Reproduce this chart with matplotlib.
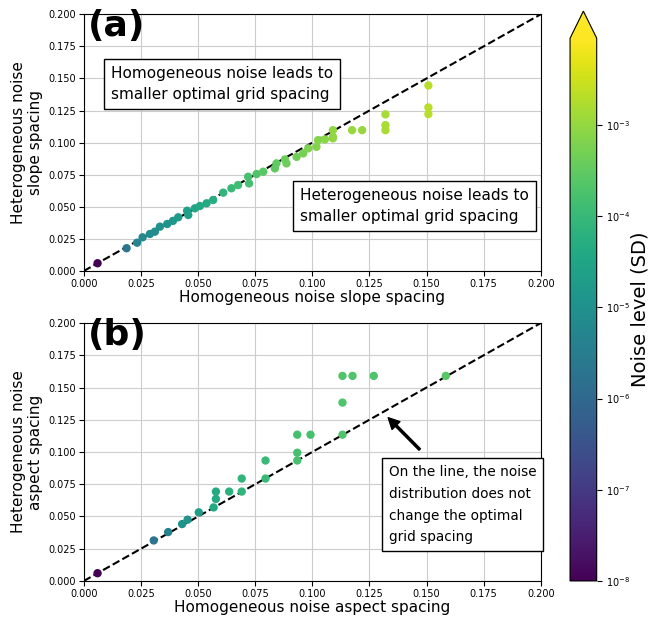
import numpy as np
import matplotlib
matplotlib.use('Agg')
import matplotlib.pyplot as plt
from matplotlib.colors import LogNorm

# (a) slope spacing: homogeneous vs heterogeneous, with noise level (SD)
slope_hom = np.array([0.006, 0.0187, 0.0233, 0.0257, 0.0289, 0.0311, 0.0333, 0.0365, 0.039, 0.0413,
                      0.0452, 0.0457, 0.0486, 0.0508, 0.0537, 0.0566, 0.061, 0.0646, 0.0675, 0.0719,
                      0.0723, 0.0756, 0.0785, 0.0836, 0.0843, 0.088, 0.0887, 0.0931, 0.096, 0.0982,
                      0.1018, 0.1025, 0.1055, 0.109, 0.109, 0.109, 0.1174, 0.1218, 0.132, 0.132,
                      0.132, 0.1508, 0.1508, 0.1508])
slope_het = np.array([0.006, 0.0177, 0.022, 0.0262, 0.0288, 0.0306, 0.0345, 0.0366, 0.039, 0.0418,
                      0.0469, 0.0436, 0.0488, 0.0506, 0.0527, 0.0553, 0.061, 0.0644, 0.0669, 0.0734,
                      0.0682, 0.0755, 0.0773, 0.0799, 0.0838, 0.0869, 0.0838, 0.0889, 0.0916, 0.0955,
                      0.0967, 0.1019, 0.1025, 0.1045, 0.1097, 0.1033, 0.1097, 0.1097, 0.122, 0.1136,
                      0.1097, 0.1445, 0.1274, 0.1222])
slope_noise = np.array([1e-8, 2e-6, 5e-6, 6e-6, 7e-6, 8e-6, 1e-5, 1.2e-5, 1.4e-5, 1.8e-5,
                        2.5e-5, 2.5e-5, 3.2e-5, 3.6e-5, 4e-5, 5e-5, 8e-5, 1e-4, 1.3e-4, 1.6e-4,
                        1.6e-4, 2e-4, 2.5e-4, 3.2e-4, 3.2e-4, 4e-4, 4e-4, 4.5e-4, 5e-4, 6.3e-4,
                        7e-4, 7e-4, 8e-4, 9e-4, 9e-4, 9e-4, 1.1e-3, 1.1e-3, 1.5e-3, 1.5e-3,
                        1.5e-3, 2e-3, 2e-3, 2e-3])

# (b) aspect spacing
aspect_hom = np.array([0.006, 0.0306, 0.0369, 0.043, 0.0454, 0.0503, 0.0568, 0.0578, 0.0578, 0.0636,
                       0.0691, 0.0691, 0.0795, 0.0795, 0.0934, 0.0934, 0.0934, 0.0992, 0.1132, 0.1132,
                       0.1132, 0.1176, 0.1269, 0.1584])
aspect_het = np.array([0.006, 0.0314, 0.0379, 0.0441, 0.0475, 0.0532, 0.057, 0.0636, 0.0693, 0.0693,
                       0.0693, 0.0794, 0.0794, 0.0934, 0.0934, 0.0994, 0.1134, 0.1134, 0.1134, 0.1383,
                       0.159, 0.159, 0.159, 0.159])
aspect_noise = np.array([1e-8, 2e-6, 4e-6, 1e-5, 1.3e-5, 2e-5, 4e-5, 4e-5, 4e-5, 6.3e-5,
                         8e-5, 8e-5, 1e-4, 1e-4, 1.6e-4, 1.6e-4, 1.6e-4, 1.6e-4, 2e-4, 2e-4,
                         2e-4, 2e-4, 2e-4, 2.5e-4])

ticks = [0, 0.025, 0.05, 0.075, 0.1, 0.125, 0.15, 0.175, 0.2]
norm = LogNorm(vmin=1e-8, vmax=10**-2.05)

fig = plt.figure(figsize=(6.5, 6.2), dpi=100)
ax1 = fig.add_axes([0.129, 0.563, 0.703, 0.414])
ax2 = fig.add_axes([0.129, 0.063, 0.703, 0.416])
cax = fig.add_axes([0.877, 0.063, 0.041, 0.919])


def setup(ax, hom, het, noise, xlabel, ylabel, tag):
    ax.grid(True, color='0.8', lw=0.8, zorder=0)
    ax.plot([0, 0.2], [0, 0.2], 'k--', lw=1.5, zorder=2)
    sc = ax.scatter(hom, het, c=noise, cmap='viridis', norm=norm, s=25, zorder=3)
    ax.set_xlim(0, 0.2)
    ax.set_ylim(0, 0.2)
    ax.set_xticks(ticks)
    ax.set_yticks(ticks)
    ax.tick_params(labelsize=7, pad=2)
    ax.set_xlabel(xlabel, fontsize=11, labelpad=1)
    ax.set_ylabel(ylabel, fontsize=11, labelpad=4)
    ax.text(0.008, 0.955, tag, transform=ax.transAxes, fontsize=26, fontweight='bold',
            va='center', ha='left', zorder=5)
    return sc


bbox = dict(boxstyle='square,pad=0.45', facecolor='white', edgecolor='black')

sc = setup(ax1, slope_hom, slope_het, slope_noise, 'Homogeneous noise slope spacing',
           'Heterogeneous noise\nslope spacing', '(a)')
ax1.text(0.0118, 0.1455, 'Homogeneous noise leads to\nsmaller optimal grid spacing',
         fontsize=11, va='center', ha='left', linespacing=1.5, bbox=bbox, zorder=4)
ax1.text(0.0945, 0.0506, 'Heterogeneous noise leads to\nsmaller optimal grid spacing',
         fontsize=11, va='center', ha='left', linespacing=1.5, bbox=bbox, zorder=4)

setup(ax2, aspect_hom, aspect_het, aspect_noise, 'Homogeneous noise aspect spacing',
      'Heterogeneous noise\naspect spacing', '(b)')
ax2.text(0.1335, 0.059, 'On the line, the noise\ndistribution does not\nchange the optimal\ngrid spacing',
         fontsize=9.8, va='center', ha='left', linespacing=1.7,
         bbox=dict(boxstyle='square,pad=0.5', facecolor='white', edgecolor='black'), zorder=4)
ax2.annotate('', xy=(0.1332, 0.1266), xytext=(0.147, 0.1019),
             arrowprops=dict(facecolor='black', edgecolor='black', width=1.5,
                             headwidth=8, headlength=8, shrink=0.0), zorder=4)

cb = fig.colorbar(sc, cax=cax, extend='max')
cb.set_ticks([1e-8, 1e-7, 1e-6, 1e-5, 1e-4, 1e-3])
cb.ax.minorticks_off()
cb.ax.tick_params(labelsize=7)
cb.set_label('Noise level (SD)', fontsize=14, labelpad=0)

fig.savefig('out.png', dpi=100)
